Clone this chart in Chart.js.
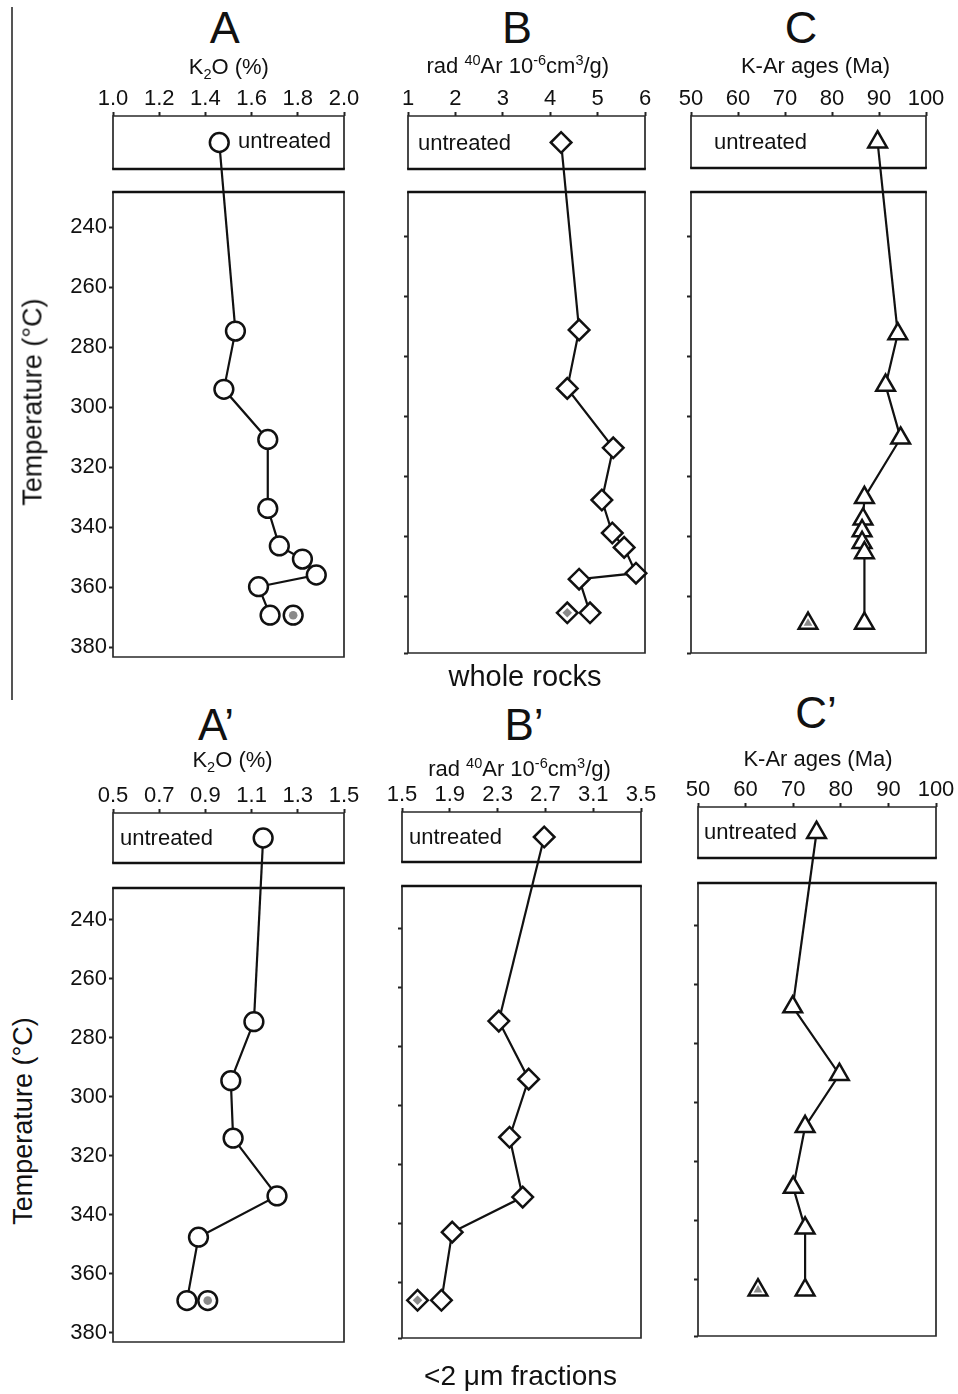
<!DOCTYPE html>
<html>
<head>
<meta charset="utf-8">
<script src="https://cdn.jsdelivr.net/npm/chart.js@4.4.1/dist/chart.umd.min.js"></script>
<style>
html,body{margin:0;padding:0;background:#fff;}
body{width:958px;height:1394px;position:relative;overflow:hidden;font-family:"Liberation Sans",Arial,Helvetica,sans-serif;color:#111;}
canvas{position:absolute;z-index:1;}
.t{position:absolute;white-space:nowrap;line-height:1;z-index:2;}
.c{transform:translateX(-50%);}
.rot{transform:translate(-50%,-50%) rotate(-90deg);}
sup,sub{font-size:0.66em;line-height:0;}
#vline{position:absolute;left:11px;top:7px;width:1.5px;height:693px;background:#555;}
</style>
</head>
<body>
<div id="vline"></div>

<div class="t c" style="left:224.7px;top:4.9px;font-size:45px;">A</div>
<div class="t c" style="left:517px;top:4.9px;font-size:45px;">B</div>
<div class="t c" style="left:801px;top:4.9px;font-size:45px;">C</div>
<div class="t c" style="left:216px;top:702.8px;font-size:44px;">A’</div>
<div class="t c" style="left:524px;top:702.8px;font-size:44px;">B’</div>
<div class="t c" style="left:816px;top:690.8px;font-size:44px;">C’</div>

<div class="t c" style="left:228.8px;top:56.4px;font-size:22px;">K<sub>2</sub>O (%)</div>
<div class="t c" style="left:517.8px;top:55.4px;font-size:22px;">rad <sup>40</sup>Ar 10<sup>-6</sup>cm<sup>3</sup>/g)</div>
<div class="t c" style="left:815.5px;top:55.4px;font-size:22px;">K-Ar ages (Ma)</div>
<div class="t c" style="left:232.5px;top:749.4px;font-size:22px;">K<sub>2</sub>O (%)</div>
<div class="t c" style="left:519.5px;top:758.4px;font-size:22px;">rad <sup>40</sup>Ar 10<sup>-6</sup>cm<sup>3</sup>/g)</div>
<div class="t c" style="left:818px;top:748.4px;font-size:22px;">K-Ar ages (Ma)</div>

<div class="t" style="left:238px;top:129.7px;font-size:22px;">untreated</div>
<div class="t" style="left:418px;top:132.1px;font-size:22px;">untreated</div>
<div class="t" style="left:714px;top:130.7px;font-size:22px;">untreated</div>
<div class="t" style="left:120px;top:827.4px;font-size:22px;">untreated</div>
<div class="t" style="left:409px;top:826.4px;font-size:22px;">untreated</div>
<div class="t" style="left:704px;top:821.4px;font-size:22px;">untreated</div>

<div class="t rot" style="left:32.5px;top:402px;font-size:27px;">Temperature (°C)</div>
<div class="t rot" style="left:23px;top:1121px;font-size:27px;">Temperature (°C)</div>

<div class="t c" style="left:525px;top:661.5px;font-size:29px;">whole rocks</div>
<div class="t c" style="left:520.5px;top:1362.3px;font-size:28px;">&lt;2 μm fractions</div>

<script>
// ===================== DATA =====================
// Temperature axis ticks (°C)
const tempTicks = [240, 260, 280, 300, 320, 340, 360, 380];
const tempTickLabels = ['240', '260', '280', '300', '320', '340', '360', '380'];
// unlabelled tick marks of panels B, C, B', C'
const tempMarksWR = [243, 263, 283, 303, 323, 343, 363, 382];
const tempMarksB2 = [243, 263, 283, 303, 323, 343, 363, 381.8];
const tempMarksC2 = [242, 262, 282, 302, 322, 342, 362, 381.1];

// X axis ticks
const k2oWRTicks = [1.0, 1.2, 1.4, 1.6, 1.8, 2.0];
const k2oWRTickLabels = ['1.0', '1.2', '1.4', '1.6', '1.8', '2.0'];
const arWRTicks = [1, 2, 3, 4, 5, 6];
const arWRTickLabels = ['1', '2', '3', '4', '5', '6'];
const ageTicks = [50, 60, 70, 80, 90, 100];
const ageTickLabels = ['50', '60', '70', '80', '90', '100'];
const k2oClayTicks = [0.5, 0.7, 0.9, 1.1, 1.3, 1.5];
const k2oClayTickLabels = ['0.5', '0.7', '0.9', '1.1', '1.3', '1.5'];
const arClayTicks = [1.5, 1.9, 2.3, 2.7, 3.1, 3.5];
const arClayTickLabels = ['1.5', '1.9', '2.3', '2.7', '3.1', '3.5'];

// Panel A: whole rocks, K2O (%)
const tempA = [274.7, 294.1, 310.8, 333.8, 346.3, 350.7, 356.0, 359.9, 369.4];
const k2oWR = [1.53, 1.48, 1.67, 1.67, 1.72, 1.82, 1.88, 1.63, 1.68];
const k2oWRUntreated = 1.46;
const k2oWRGrey = 1.78;
const tempAGrey = 369.4;

// Panel B: whole rocks, radiogenic 40Ar
const tempB = [274.3, 293.8, 313.6, 331.0, 342.0, 346.8, 355.4, 357.4, 368.6];
const arWR = [4.61, 4.36, 5.33, 5.09, 5.31, 5.56, 5.81, 4.61, 4.84];
const arWRUntreated = 4.23;
const arWRGrey = 4.36;
const tempBGrey = 368.6;

// Panel C: whole rocks, K-Ar ages (Ma)
const tempC = [275.6, 292.8, 310.4, 330.2, 337.4, 341.3, 345.2, 348.6, 372.1];
const ageWR = [94.0, 91.4, 94.6, 86.9, 86.6, 86.4, 86.4, 86.9, 86.9];
const ageWRUntreated = 89.7;
const ageWRGrey = 74.9;
const tempCGrey = 372.1;

// Panel A': <2 µm fractions, K2O (%)
const tempA2 = [274.5, 294.5, 314.0, 333.6, 347.6, 369.1];
const k2oClay = [1.11, 1.01, 1.02, 1.21, 0.87, 0.82];
const k2oClayUntreated = 1.15;
const k2oClayGrey = 0.91;
const tempA2Grey = 369.1;

// Panel B': <2 µm fractions, radiogenic 40Ar
const tempB2 = [274.3, 294.0, 313.7, 334.0, 345.9, 369.0];
const arClay = [2.31, 2.56, 2.40, 2.51, 1.92, 1.83];
const arClayUntreated = 2.69;
const arClayGrey = 1.63;
const tempB2Grey = 369.0;

// Panel C': <2 µm fractions, K-Ar ages (Ma)
const tempC2 = [269.5, 292.4, 310.1, 330.7, 344.5, 365.5];
const ageClay = [69.9, 79.7, 72.5, 70.0, 72.5, 72.5];
const ageClayUntreated = 74.9;
const ageClayGrey = 62.6;
const tempC2Grey = 365.5;

// ===================== LAYOUT / STYLE =====================
const FONT = '"Liberation Sans", Arial, Helvetica, sans-serif';
const WY = 70, HX = 40, PR = 26, PB = 16;

const markerStyles = {
  circle:   { style: 'circle',   r: 9.4, inner: 4.3 },
  diamond:  { style: 'rectRot',  r: 10.3, inner: 4.8 },
  triangle: { style: 'triangle', r: 10.8, inner: 5 }
};

const panels = [
  { vals: k2oWR, temps: tempA, un: k2oWRUntreated, grey: k2oWRGrey, greyT: tempAGrey,
    xTicks: k2oWRTicks, xLabels: k2oWRTickLabels, yTicks: tempTicks, yLabels: tempTickLabels, showY: true,
    marker: 'circle', yRange: [228.33, 383.33],
    box: { left: 113, right: 344, uTop: 116, uBot: 169, mTop: 192, mBot: 657 } },
  { vals: arWR, temps: tempB, un: arWRUntreated, grey: arWRGrey, greyT: tempBGrey,
    xTicks: arWRTicks, xLabels: arWRTickLabels, yTicks: tempMarksWR, yLabels: null, showY: false,
    marker: 'diamond', yRange: [228.33, 382.0],
    box: { left: 408, right: 645, uTop: 116, uBot: 169, mTop: 192, mBot: 653 } },
  { vals: ageWR, temps: tempC, un: ageWRUntreated, grey: ageWRGrey, greyT: tempCGrey,
    xTicks: ageTicks, xLabels: ageTickLabels, yTicks: tempMarksWR, yLabels: null, showY: false,
    marker: 'triangle', yRange: [228.33, 382.0],
    box: { left: 691, right: 926, uTop: 116, uBot: 168, mTop: 192, mBot: 653 } },
  { vals: k2oClay, temps: tempA2, un: k2oClayUntreated, grey: k2oClayGrey, greyT: tempA2Grey,
    xTicks: k2oClayTicks, xLabels: k2oClayTickLabels, yTicks: tempTicks, yLabels: tempTickLabels, showY: true,
    marker: 'circle', yRange: [229.15, 383.15],
    box: { left: 113, right: 344, uTop: 813, uBot: 863, mTop: 888, mBot: 1342 } },
  { vals: arClay, temps: tempB2, un: arClayUntreated, grey: arClayGrey, greyT: tempB2Grey,
    xTicks: arClayTicks, xLabels: arClayTickLabels, yTicks: tempMarksB2, yLabels: null, showY: false,
    marker: 'diamond', yRange: [228.47, 381.8],
    box: { left: 402, right: 641, uTop: 812, uBot: 862, mTop: 886, mBot: 1338 } },
  { vals: ageClay, temps: tempC2, un: ageClayUntreated, grey: ageClayGrey, greyT: tempC2Grey,
    xTicks: ageTicks, xLabels: ageTickLabels, yTicks: tempMarksC2, yLabels: null, showY: false,
    marker: 'triangle', yRange: [227.45, 381.1],
    box: { left: 698, right: 936, uTop: 807, uBot: 858, mTop: 883, mBot: 1336 } }
];

// frames of the "untreated" box and the main temperature box
const framePlugin = {
  id: 'frames',
  beforeDatasetsDraw(chart) {
    const { ctx, chartArea: a, scales } = chart;
    const uTop = scales.yu.top, uBot = scales.yu.bottom, mTop = scales.y.top, mBot = scales.y.bottom;
    ctx.save();
    ctx.lineCap = 'butt';
    ctx.strokeStyle = '#2a2a2a';
    ctx.lineWidth = 1.7;
    ctx.beginPath();
    ctx.moveTo(a.left, uBot); ctx.lineTo(a.left, uTop); ctx.lineTo(a.right, uTop); ctx.lineTo(a.right, uBot);
    ctx.moveTo(a.left, mTop); ctx.lineTo(a.left, mBot); ctx.lineTo(a.right, mBot); ctx.lineTo(a.right, mTop);
    ctx.stroke();
    ctx.strokeStyle = '#111';
    ctx.lineWidth = 2.6;
    ctx.beginPath();
    ctx.moveTo(a.left - 0.85, uBot); ctx.lineTo(a.right + 0.85, uBot);
    ctx.moveTo(a.left - 0.85, mTop); ctx.lineTo(a.right + 0.85, mTop);
    ctx.stroke();
    ctx.restore();
  }
};

// line linking the untreated sample to the first heated step
const connectorPlugin = {
  id: 'connector',
  beforeDatasetsDraw(chart) {
    const first = chart.getDatasetMeta(0).data[0];
    const un = chart.getDatasetMeta(1).data[0];
    if (!first || !un) return;
    const ctx = chart.ctx;
    ctx.save();
    ctx.strokeStyle = '#111';
    ctx.lineWidth = 2.2;
    ctx.beginPath();
    ctx.moveTo(un.x, un.y);
    ctx.lineTo(first.x, first.y);
    ctx.stroke();
    ctx.restore();
  }
};

Chart.defaults.font.family = FONT;
Chart.defaults.color = '#111';

function makeChart(p) {
  const b = p.box;
  const w = b.right - b.left + WY + PR;
  const h = b.mBot - b.uTop + HX + PB;
  const cv = document.createElement('canvas');
  cv.width = w; cv.height = h;
  cv.style.width = w + 'px'; cv.style.height = h + 'px';
  cv.style.left = (b.left - WY) + 'px';
  cv.style.top = (b.uTop - HX) + 'px';
  document.body.appendChild(cv);

  const m = markerStyles[p.marker];
  const mainData = p.temps.map((t, i) => ({ x: p.vals[i], y: t }));
  const greyData = [{ x: p.grey, y: p.greyT }];

  const tickGrid = { display: true, drawOnChartArea: false, drawTicks: true, tickLength: 4, tickWidth: 2, tickColor: '#222' };

  new Chart(cv, {
    type: 'line',
    data: {
      datasets: [
        { data: mainData, yAxisID: 'y', order: 2, clip: false,
          borderColor: '#111', borderWidth: 2.2, tension: 0, fill: false,
          pointStyle: m.style, pointRadius: m.r, pointBorderWidth: 2.5,
          pointBackgroundColor: '#fff', pointBorderColor: '#111' },
        { data: [{ x: p.un, y: 'untreated' }], yAxisID: 'yu', order: 2, clip: false, showLine: false,
          pointStyle: m.style, pointRadius: m.r, pointBorderWidth: 2.5,
          pointBackgroundColor: '#fff', pointBorderColor: '#111' },
        { data: greyData, yAxisID: 'y', order: 1, clip: false, showLine: false,
          pointStyle: m.style, pointRadius: m.r, pointBorderWidth: 2.5,
          pointBackgroundColor: '#fff', pointBorderColor: '#111' },
        { data: greyData, yAxisID: 'y', order: 0, clip: false, showLine: false,
          pointStyle: m.style, pointRadius: m.inner, pointBorderWidth: 0,
          pointBackgroundColor: '#8a8a8a', pointBorderColor: '#8a8a8a' }
      ]
    },
    options: {
      responsive: false,
      animation: false,
      devicePixelRatio: 1,
      events: [],
      layout: { padding: { left: 0, top: 0, right: PR, bottom: PB } },
      plugins: { legend: { display: false }, tooltip: { enabled: false }, title: { display: false } },
      scales: {
        x: {
          type: 'linear', position: 'top',
          min: p.xTicks[0], max: p.xTicks[p.xTicks.length - 1],
          afterBuildTicks: s => { s.ticks = p.xTicks.map(v => ({ value: v })); },
          afterFit: s => { s.height = HX; },
          ticks: { autoSkip: false, maxRotation: 0, minRotation: 0, padding: 2, color: '#111',
                   font: { size: 22, lineHeight: 1 },
                   callback: (v, i) => p.xLabels[i] },
          grid: tickGrid,
          border: { display: false }
        },
        y: {
          type: 'linear', position: 'left', stack: 'panel', stackWeight: b.mBot - b.mTop,
          reverse: true, min: p.yRange[0], max: p.yRange[1],
          afterBuildTicks: s => { s.ticks = p.yTicks.map(v => ({ value: v })); },
          afterFit: s => { s.width = WY; },
          ticks: { display: p.showY, autoSkip: false, padding: 2, color: '#111',
                   font: { size: 22, lineHeight: 1 },
                   callback: (v, i) => (p.yLabels ? p.yLabels[i] : '') },
          grid: tickGrid,
          border: { display: false }
        },
        yg: {
          type: 'linear', position: 'left', stack: 'panel', stackWeight: b.mTop - b.uBot,
          display: false, afterFit: s => { s.width = WY; }
        },
        yu: {
          type: 'category', labels: ['untreated'], position: 'left', stack: 'panel',
          stackWeight: b.uBot - b.uTop, offset: true, display: false,
          afterFit: s => { s.width = WY; }
        }
      }
    },
    plugins: [framePlugin, connectorPlugin]
  });
}

panels.forEach(makeChart);
</script>
</body>
</html>
